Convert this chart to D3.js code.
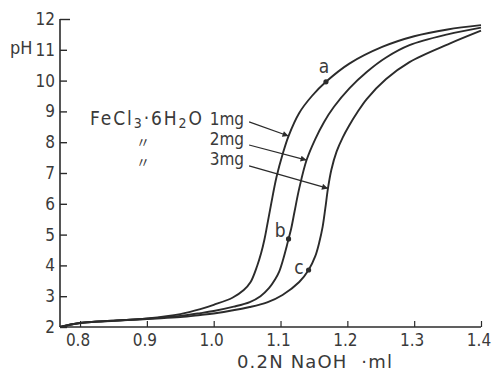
<!DOCTYPE html>
<html>
<head>
<meta charset="utf-8">
<script src="https://cdn.jsdelivr.net/npm/d3@7/dist/d3.min.js"></script>
<style>
  html, body { margin: 0; padding: 0; background: #fff; }
  svg { display: block; }
  .tick-label { font-family: "Liberation Sans Narrow", "DejaVu Sans Condensed", sans-serif; font-size: 17px; fill: #3a3a3a; }
</style>
</head>
<body>
<div id="chart"></div>
<script>
// axis ticks
const xTicks = [0.8, 0.9, 1.0, 1.1, 1.2, 1.3, 1.4]
const xTickLabels = ['0.8', '0.9', '1.0', '1.1', '1.2', '1.3', '1.4']
const yTicks = [2, 3, 4, 5, 6, 7, 8, 9, 10, 11, 12]

// titration curves (ml of 0.2N NaOH, pH)
const vol1mg = [0.77, 0.80, 0.85, 0.90, 0.95, 0.98, 1.00, 1.028, 1.045, 1.055, 1.065, 1.071, 1.076, 1.080, 1.086, 1.094, 1.103, 1.112, 1.128, 1.147, 1.168, 1.203, 1.253, 1.300, 1.350, 1.400]
const ph1mg  = [2.00, 2.13, 2.20, 2.28, 2.42, 2.58, 2.72, 2.95, 3.20, 3.45, 3.98, 4.40, 4.85, 5.30, 6.00, 6.87, 7.60, 8.20, 8.95, 9.50, 9.96, 10.55, 11.10, 11.44, 11.66, 11.80]

const vol2mg = [0.77, 0.80, 0.90, 0.95, 0.98, 1.00, 1.030, 1.054, 1.070, 1.083, 1.092, 1.098, 1.104, 1.109, 1.112, 1.116, 1.121, 1.128, 1.139, 1.152, 1.165, 1.180, 1.203, 1.229, 1.258, 1.293, 1.350, 1.400]
const ph2mg  = [2.00, 2.13, 2.27, 2.36, 2.45, 2.52, 2.66, 2.81, 3.00, 3.27, 3.55, 3.80, 4.20, 4.60, 4.86, 5.20, 5.75, 6.50, 7.42, 8.10, 8.65, 9.15, 9.75, 10.28, 10.75, 11.15, 11.50, 11.72]

const vol3mg = [0.77, 0.80, 0.90, 0.95, 0.98, 1.00, 1.054, 1.080, 1.103, 1.128, 1.142, 1.152, 1.158, 1.163, 1.167, 1.171, 1.176, 1.184, 1.193, 1.203, 1.215, 1.229, 1.258, 1.293, 1.353, 1.400]
const ph3mg  = [2.00, 2.13, 2.26, 2.32, 2.39, 2.44, 2.65, 2.80, 3.04, 3.46, 3.85, 4.30, 4.75, 5.25, 5.85, 6.50, 7.10, 7.70, 8.15, 8.55, 8.97, 9.40, 10.05, 10.60, 11.20, 11.62]

// marked points a, b, c
const pointLabels = ['a', 'b', 'c']
const pointVol = [1.168, 1.112, 1.142]
const pointPh = [9.96, 4.86, 3.85]

// legend entries and their arrows (from legend to curve)
const legendAmounts = ['1mg', '2mg', '3mg']
const arrowFromVol = [1.053, 1.053, 1.053]
const arrowFromPh = [8.66, 7.91, 7.23]
const arrowToVol = [1.112, 1.139, 1.171]
const arrowToPh = [8.20, 7.42, 6.50]

const width = 495
const height = 375
const ink = '#2b2b2b'

const x = d3.scaleLinear().domain([0.77, 1.4]).range([60, 481])
const y = d3.scaleLinear().domain([2, 12]).range([327, 19])

const svg = d3.select('#chart').append('svg')
    .attr('width', width)
    .attr('height', height)

svg.append('defs').append('marker')
    .attr('id', 'head')
    .attr('viewBox', '0 0 10 10')
    .attr('refX', 10)
    .attr('refY', 5)
    .attr('markerWidth', 9)
    .attr('markerHeight', 6)
    .attr('markerUnits', 'userSpaceOnUse')
    .attr('orient', 'auto')
  .append('path')
    .attr('d', 'M0,0 L10,5 L0,10 z')
    .attr('fill', ink)

// y axis, ticks pointing inward
let yAxis = d3.axisRight(y).tickValues(yTicks).tickSize(7).tickFormat('')
let gy = svg.append('g').attr('transform', 'translate(' + x.range()[0] + ',0)').call(yAxis)
gy.select('.domain').remove()
gy.selectAll('.tick line').attr('stroke', ink).attr('stroke-width', 1.4)
gy.selectAll('.tick').filter(d => d === 12).select('line').attr('x2', 10)
svg.append('line')
    .attr('x1', x.range()[0]).attr('x2', x.range()[0])
    .attr('y1', y(2)).attr('y2', y(12))
    .attr('stroke', ink).attr('stroke-width', 1.6)

svg.append('g').selectAll('text')
    .data(yTicks)
    .enter().append('text')
    .attr('class', 'tick-label')
    .attr('x', x.range()[0] - 5)
    .attr('y', d => y(d) + 6)
    .attr('text-anchor', 'end')
    .text(d => d)

svg.append('text')
    .attr('x', 10)
    .attr('y', 54)
    .attr('font-family', 'Liberation Sans Narrow, DejaVu Sans Condensed, sans-serif')
    .attr('font-size', 18)
    .attr('fill', '#3a3a3a')
    .text('pH')

// x axis, ticks pointing up
let xAxis = d3.axisTop(x).tickValues(xTicks).tickSize(6).tickFormat('')
let gx = svg.append('g').attr('transform', 'translate(0,' + y(2) + ')').call(xAxis)
gx.select('.domain').remove()
gx.selectAll('.tick line').attr('stroke', ink).attr('stroke-width', 1.2)
svg.append('line')
    .attr('x1', x.range()[0]).attr('x2', x(1.4))
    .attr('y1', y(2)).attr('y2', y(2))
    .attr('stroke', ink).attr('stroke-width', 1.6)

svg.append('g').selectAll('text')
    .data(xTicks)
    .enter().append('text')
    .attr('class', 'tick-label')
    .attr('x', d => x(d) - 2)
    .attr('y', y(2) + 19)
    .attr('text-anchor', 'middle')
    .text((d, i) => xTickLabels[i])

svg.append('text')
    .attr('x', 237)
    .attr('y', 368)
    .attr('font-family', 'DejaVu Sans, sans-serif')
    .attr('font-size', 18)
    .attr('fill', '#3a3a3a')
    .attr('textLength', 155)
    .attr('lengthAdjust', 'spacing')
    .text('0.2N NaOH \u00a0\u00b7ml')

// curves
let line = d3.line()
    .x(d => x(d[0]))
    .y(d => y(d[1]))
    .curve(d3.curveCatmullRom.alpha(0.5))

let series = [
    d3.zip(vol1mg, ph1mg),
    d3.zip(vol2mg, ph2mg),
    d3.zip(vol3mg, ph3mg)
]
svg.append('g').selectAll('path')
    .data(series)
    .enter().append('path')
    .attr('d', line)
    .attr('fill', 'none')
    .attr('stroke', ink)
    .attr('stroke-width', 1.9)

// points a, b, c
let labelDx = [-2, -3, -5]
let labelDy = [-9, -2, 4]
let labelAnchor = ['middle', 'end', 'end']
svg.append('g').selectAll('circle')
    .data(pointLabels)
    .enter().append('circle')
    .attr('cx', (d, i) => x(pointVol[i]))
    .attr('cy', (d, i) => y(pointPh[i]))
    .attr('r', 2.6)
    .attr('fill', ink)
svg.append('g').selectAll('text')
    .data(pointLabels)
    .enter().append('text')
    .attr('class', 'tick-label')
    .style('font-size', '19px')
    .attr('x', (d, i) => x(pointVol[i]) + labelDx[i])
    .attr('y', (d, i) => y(pointPh[i]) + labelDy[i])
    .attr('text-anchor', (d, i) => labelAnchor[i])
    .text(d => d)

// legend
let legend = svg.append('text')
    .attr('class', 'tick-label')
    .style('font-size', '19px')
    .attr('x', 90)
    .attr('y', 125)
    .attr('textLength', 112)
    .attr('lengthAdjust', 'spacing')
legend.append('tspan').text('FeCl')
legend.append('tspan').attr('dy', 3).style('font-size', '14px').text('3')
legend.append('tspan').attr('dy', -3).text('\u00b76H')
legend.append('tspan').attr('dy', 3).style('font-size', '14px').text('2')
legend.append('tspan').attr('dy', -3).text('O')

svg.append('g').selectAll('text')
    .data(legendAmounts)
    .enter().append('text')
    .attr('class', 'tick-label')
    .attr('x', 244)
    .attr('y', (d, i) => 125 + i * 20)
    .attr('text-anchor', 'end')
    .text(d => d)

svg.append('g').selectAll('text')
    .data(legendAmounts.slice(1))
    .enter().append('text')
    .attr('x', 143)
    .attr('y', (d, i) => 147 + i * 20)
    .attr('text-anchor', 'middle')
    .attr('font-family', 'Noto Sans CJK JP, sans-serif')
    .attr('font-size', 14)
    .attr('fill', '#3a3a3a')
    .text('\u3003')

svg.append('g').selectAll('line')
    .data(legendAmounts)
    .enter().append('line')
    .attr('x1', (d, i) => x(arrowFromVol[i]))
    .attr('y1', (d, i) => y(arrowFromPh[i]))
    .attr('x2', (d, i) => x(arrowToVol[i]))
    .attr('y2', (d, i) => y(arrowToPh[i]))
    .attr('stroke', ink)
    .attr('stroke-width', 1.2)
    .attr('marker-end', 'url(#head)')
</script>
</body>
</html>
